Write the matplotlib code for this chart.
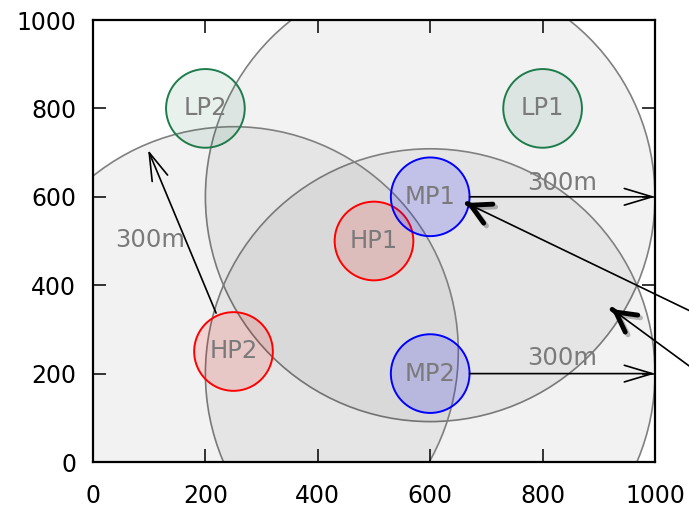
import matplotlib
matplotlib.use("Agg")
import matplotlib.pyplot as plt
import matplotlib.patheffects as pe
from matplotlib.patches import Ellipse

# sites (small circles)
site_names = ["LP1", "LP2", "HP1", "HP2", "MP1", "MP2"]
site_x = [800, 200, 500, 250, 600, 600]
site_y = [800, 800, 500, 250, 600, 200]
site_kind = ["LP", "LP", "HP", "HP", "MP", "MP"]
site_r = 70

# coverage circles (big grey ones)
cov_x = [600, 600, 250]
cov_y = [600, 200, 250]
cov_r = 400

# "300m" range arrows: start, end, label position
range_start = [(670, 600), (670, 200), (219, 337)]
range_end = [(1000, 600), (1000, 200), (98, 706)]
range_text = [(835, 631), (835, 235), (101, 502)]

# callout arrows coming in from the right
callout_start = [(1075, 334), (1075, 204)]
callout_tip = [(664, 586), (923, 346)]

edge_col = {"LP": "#1e7b4c", "HP": "#ff0000", "MP": "#0000ff"}
fill_col = {"LP": (0.12, 0.48, 0.30, 0.10),
            "HP": (1.0, 0.0, 0.0, 0.13),
            "MP": (0.0, 0.0, 1.0, 0.15)}

W, H = 689, 507
fig = plt.figure(figsize=(W / 100, H / 100), dpi=100)
ax = fig.add_axes([93 / W, 45 / H, 562 / W, 442 / H])
ax.set_xlim(0, 1000)
ax.set_ylim(0, 1000)

# keep circles round on screen although the axes are not square
ratio = (562 / 1000) / (442 / 1000)

for cx, cy in zip(cov_x, cov_y):
    ax.add_patch(Ellipse((cx, cy), 2 * cov_r, 2 * cov_r * ratio,
                         facecolor=(0, 0, 0, 0.05), edgecolor="#808080",
                         lw=1.2, zorder=1))

for name, x, y, k in zip(site_names, site_x, site_y, site_kind):
    ax.add_patch(Ellipse((x, y), 2 * site_r, 2 * site_r * ratio,
                         facecolor=fill_col[k], edgecolor=edge_col[k],
                         lw=1.4, zorder=3))
    ax.text(x, y, name, ha="center", va="center", fontsize=17.5,
            color="#7a7a7a", zorder=4)

for s, e, t in zip(range_start, range_end, range_text):
    ax.annotate("", xy=e, xytext=s,
                arrowprops=dict(arrowstyle="->,head_length=1.0,head_width=0.3",
                                lw=1.2, color="k", mutation_scale=20,
                                shrinkA=0, shrinkB=0), zorder=5)
    ax.text(t[0], t[1], "300m", ha="center", va="center", fontsize=17.5,
            color="#7a7a7a", zorder=4)

shadow = [pe.SimpleLineShadow(offset=(2, -2), alpha=0.25, shadow_color="k"),
          pe.Normal()]
for s, tip in zip(callout_start, callout_tip):
    ax.annotate("", xy=tip, xytext=s, annotation_clip=False,
                arrowprops=dict(arrowstyle="-", lw=1.2, color="k",
                                shrinkA=0, shrinkB=0), zorder=6)
    # short segment near the tip only carries the bold head
    dx = (s[0] - tip[0]) * 0.005
    dy = (s[1] - tip[1]) * 0.005
    a = ax.annotate("", xy=tip, xytext=(tip[0] + dx, tip[1] + dy),
                    annotation_clip=False,
                    arrowprops=dict(arrowstyle="->,head_length=0.7,head_width=0.38",
                                    lw=3.5, color="k", mutation_scale=20,
                                    shrinkA=0, shrinkB=0), zorder=6)
    a.arrow_patch.set_path_effects(shadow)

ax.set_xticks(range(0, 1001, 200))
ax.set_yticks(range(0, 1001, 200))
ax.tick_params(direction="in", length=9.5, width=1.1, top=True, right=True,
               labelsize=17)
ax.tick_params(axis="x", pad=15.5)
ax.tick_params(axis="y", pad=12)
for sp in ax.spines.values():
    sp.set_linewidth(1.6)

fig.savefig("out.png", dpi=100)
